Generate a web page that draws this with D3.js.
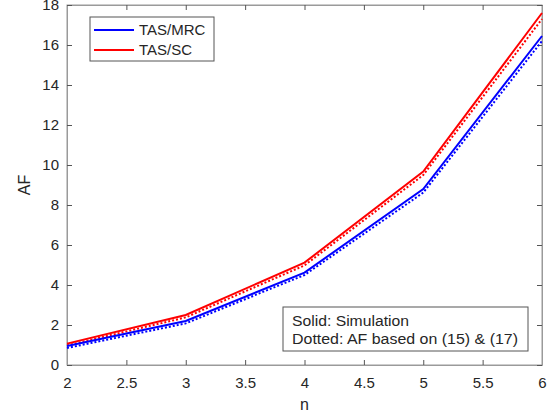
<!DOCTYPE html>
<html>
<head>
<meta charset="utf-8">
<script src="https://cdn.jsdelivr.net/npm/d3@7"></script>
<style>
  body { margin: 0; background: #fff; }
  text { font-family: "Liberation Sans", Arial, sans-serif; fill: #262626; }
</style>
</head>
<body>
<div id="chart-area"></div>
<script>
// data
const nValues = [2, 3, 4, 5, 6];
const mrcSim = [0.95, 2.2, 4.62, 8.8, 16.45];
const mrcEq = [0.85, 2.08, 4.5, 8.62, 16.2];
const scSim = [1.07, 2.5, 5.12, 9.67, 17.6];
const scEq = [0.98, 2.38, 4.98, 9.5, 17.3];
const xTicks = [2, 2.5, 3, 3.5, 4, 4.5, 5, 5.5, 6];
const yTicks = [0, 2, 4, 6, 8, 10, 12, 14, 16, 18];

const margin = { left: 67, right: 15, top: 5, bottom: 49 };
const width = 557 - margin.left - margin.right;
const height = 414 - margin.top - margin.bottom;

const svg = d3.select('#chart-area')
    .append('svg')
    .attr('width', 557)
    .attr('height', 414);

const g = svg.append('g')
    .attr('transform', 'translate(' + margin.left + ', ' + margin.top + ')');

const x = d3.scaleLinear().domain([2, 6]).range([0, width]);
const y = d3.scaleLinear().domain([0, 18]).range([height, 0]);

const frameColor = '#9a9a9a';
const tickLen = 5;

// box
g.append('rect')
    .attr('width', width)
    .attr('height', height)
    .attr('fill', 'none')
    .attr('stroke', frameColor)
    .attr('stroke-width', 1);

// axes with inward ticks
const xAxis = g.append('g')
    .attr('transform', 'translate(0,' + height + ')')
    .call(d3.axisBottom(x).tickValues(xTicks).tickSizeInner(-tickLen).tickSizeOuter(0).tickPadding(12)
        .tickFormat(d3.format('')));
const xTop = g.append('g')
    .call(d3.axisTop(x).tickValues(xTicks).tickSizeInner(-tickLen).tickSizeOuter(0).tickFormat(''));
const yAxis = g.append('g')
    .call(d3.axisLeft(y).tickValues(yTicks).tickSizeInner(-tickLen).tickSizeOuter(0).tickPadding(8));
const yRight = g.append('g')
    .attr('transform', 'translate(' + width + ',0)')
    .call(d3.axisRight(y).tickValues(yTicks).tickSizeInner(-tickLen).tickSizeOuter(0).tickFormat(''));

[xAxis, xTop, yAxis, yRight].forEach((a) => {
    a.select('.domain').attr('stroke', frameColor);
    a.selectAll('.tick line').attr('stroke', '#555');
    a.selectAll('text').style('font-size', '15px').attr('fill', '#262626')
        .style('font-family', '"Liberation Sans", Arial, sans-serif');
});

// axis labels
g.append('text')
    .attr('x', width / 2)
    .attr('y', height + 45)
    .attr('text-anchor', 'middle')
    .style('font-size', '16px')
    .text('n');

g.append('text')
    .attr('transform', 'translate(-37,' + (height / 2) + ') rotate(-90)')
    .attr('text-anchor', 'middle')
    .style('font-size', '16px')
    .text('AF');

// lines
const line = (vals) => d3.line()
    .x((d, i) => x(nValues[i]))
    .y((d) => y(d))(vals);

const series = [
    { vals: scEq, color: '#ff0000', dash: '2,2' },
    { vals: mrcEq, color: '#0000ff', dash: '2,2' },
    { vals: scSim, color: '#ff0000', dash: null },
    { vals: mrcSim, color: '#0000ff', dash: null }
];

series.forEach((s) => {
    g.append('path')
        .attr('d', line(s.vals))
        .attr('fill', 'none')
        .attr('stroke', s.color)
        .attr('stroke-width', 2)
        .attr('stroke-dasharray', s.dash);
});

// legend
const legend = g.append('g').attr('transform', 'translate(23, 12)');
legend.append('rect')
    .attr('width', 124)
    .attr('height', 44)
    .attr('fill', '#fff')
    .attr('stroke', '#555')
    .attr('stroke-width', 1);

const legendItems = [
    { label: 'TAS/MRC', color: '#0000ff' },
    { label: 'TAS/SC', color: '#ff0000' }
];
legendItems.forEach((d, i) => {
    const yy = 13 + i * 20;
    legend.append('line')
        .attr('x1', 4).attr('x2', 44)
        .attr('y1', yy).attr('y2', yy)
        .attr('stroke', d.color)
        .attr('stroke-width', 2);
    legend.append('text')
        .attr('x', 49)
        .attr('y', yy + 5)
        .style('font-size', '15px')
        .text(d.label);
});

// annotation box
const note = g.append('g').attr('transform', 'translate(216, 302)');
note.append('rect')
    .attr('width', 245)
    .attr('height', 44)
    .attr('fill', '#fff')
    .attr('stroke', '#555')
    .attr('stroke-width', 1);
note.append('text').attr('x', 9).attr('y', 19).style('font-size', '14px')
    .attr('textLength', 117).attr('lengthAdjust', 'spacingAndGlyphs')
    .text('Solid: Simulation');
note.append('text').attr('x', 9).attr('y', 37).style('font-size', '14px')
    .attr('textLength', 226).attr('lengthAdjust', 'spacingAndGlyphs')
    .text('Dotted: AF based on (15) & (17)');
</script>
</body>
</html>
